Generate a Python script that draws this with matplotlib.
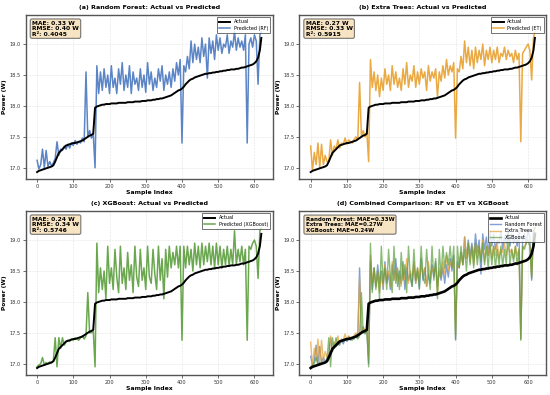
import numpy as np
import matplotlib
matplotlib.use("Agg")
import matplotlib.pyplot as plt
from matplotlib import rcParams

rcParams['font.family'] = 'DejaVu Sans'
rcParams['font.size'] = 4

# sample index (every 5th sample + last one)
sample_idx = list(range(0, 616, 5)) + [619]

actual = [16.93, 16.95, 16.96, 16.97, 16.98, 16.99, 17.00, 17.01, 17.02, 17.04,
          17.10, 17.17, 17.24, 17.27, 17.30, 17.33, 17.36, 17.37, 17.38, 17.39,
          17.40, 17.40, 17.41, 17.42, 17.43, 17.44, 17.46, 17.48, 17.50, 17.52,
          17.53, 17.55, 17.97, 17.99, 18.00, 18.01, 18.02, 18.02, 18.03, 18.03,
          18.03, 18.04, 18.04, 18.04, 18.04, 18.05, 18.05, 18.05, 18.05, 18.05,
          18.06, 18.06, 18.06, 18.06, 18.07, 18.07, 18.07, 18.07, 18.08, 18.08,
          18.08, 18.09, 18.09, 18.09, 18.10, 18.10, 18.11, 18.11, 18.12, 18.12,
          18.13, 18.14, 18.15, 18.16, 18.17, 18.19, 18.21, 18.23, 18.25, 18.26,
          18.28, 18.31, 18.35, 18.38, 18.41, 18.43, 18.44, 18.46, 18.47, 18.48,
          18.49, 18.50, 18.51, 18.52, 18.52, 18.53, 18.53, 18.54, 18.54, 18.55,
          18.55, 18.56, 18.56, 18.57, 18.57, 18.58, 18.58, 18.59, 18.59, 18.59,
          18.60, 18.60, 18.61, 18.62, 18.62, 18.63, 18.64, 18.65, 18.66, 18.67,
          18.69, 18.72, 18.78, 18.90, 19.10]

pred_rf = [17.12, 16.98, 17.05, 17.30, 17.00, 17.28, 17.02, 17.10, 17.03, 17.08,
           17.15, 17.42, 17.20, 17.30, 17.28, 17.35, 17.30, 17.38, 17.32, 17.40,
           17.36, 17.44, 17.38, 17.42, 17.40, 17.48, 17.42, 18.55, 17.50, 17.60,
           17.48, 17.55, 17.00, 18.65, 18.20, 18.55, 18.25, 18.60, 18.30, 18.50,
           18.20, 18.65, 18.30, 18.45, 18.20, 18.60, 18.35, 18.70, 18.25, 18.50,
           18.30, 18.65, 18.20, 18.55, 18.35, 18.45, 18.25, 18.60, 18.30, 18.50,
           18.22, 18.70, 18.35, 18.55, 18.25, 18.45, 18.30, 18.60, 18.40, 18.65,
           18.25, 18.50, 18.35, 18.55, 18.30, 18.60, 18.40, 18.70, 18.50, 18.75,
           17.40, 18.65, 18.55, 18.80, 18.60, 19.05, 18.70, 19.00, 18.75, 18.95,
           18.70, 19.10, 18.80, 19.00, 18.45, 19.10, 18.85, 19.05, 18.75, 19.15,
           18.90, 19.10, 18.85, 19.00, 18.95, 19.15, 18.85, 19.05, 18.95, 19.20,
           18.90, 19.10, 18.95, 19.05, 18.90, 19.15, 17.40, 19.00, 19.10, 18.95,
           19.15, 19.05, 18.35, 19.15, 19.20]

pred_et = [17.35, 16.95, 17.25, 17.05, 17.40, 17.00, 17.38, 17.05, 17.20, 17.10,
           17.10, 17.45, 17.20, 17.35, 17.30, 17.45, 17.32, 17.40, 17.38, 17.48,
           17.38, 17.45, 17.42, 17.40, 17.46, 17.50, 17.45, 18.38, 17.52, 17.60,
           17.50, 17.58, 17.10, 18.75, 18.30, 18.55, 18.25, 18.50, 18.15, 18.45,
           18.25, 18.60, 18.35, 18.50, 18.25, 18.65, 18.35, 18.55, 18.30, 18.45,
           18.25, 18.60, 18.35, 18.70, 18.30, 18.50, 18.40, 18.65, 18.30, 18.55,
           18.35, 18.60, 18.45, 18.55, 18.25, 18.65, 18.40, 18.55, 18.45, 18.60,
           18.15, 18.55, 18.40, 18.65, 18.45, 18.75, 18.50, 18.65, 18.55, 18.70,
           17.48, 18.60, 18.55, 18.80, 18.60, 19.05, 18.70, 18.95, 18.65, 18.90,
           18.60, 18.95, 18.70, 18.90, 18.75, 19.00, 18.65, 18.90, 18.75, 18.95,
           18.70, 18.90, 18.75, 18.95, 18.70, 18.85, 18.80, 18.95, 18.75, 18.90,
           18.80, 18.85, 18.70, 18.90, 18.75, 18.85, 17.42, 18.85, 18.90, 18.95,
           19.00, 18.90, 18.42, 19.10, 19.20]

pred_xgb = [16.95, 16.98, 17.00, 17.10, 16.98, 17.02, 17.00, 17.03, 17.02, 17.05,
            17.42, 16.95, 17.42, 17.25, 17.42, 17.30, 17.35, 17.38, 17.36, 17.40,
            17.38, 17.42, 17.40, 17.38, 17.42, 17.45, 17.40, 17.45, 18.15, 17.50,
            17.50, 17.55, 16.95, 18.95, 18.15, 18.55, 18.20, 18.50, 18.05, 18.90,
            18.30, 18.55, 18.20, 18.85, 18.40, 18.15, 18.90, 18.30, 18.55, 18.20,
            18.80, 18.35, 18.60, 18.15, 18.90, 18.40, 18.25, 18.85, 18.35, 18.55,
            18.20, 18.90, 18.40, 18.30, 18.85, 18.45, 18.20, 18.90, 18.35, 18.70,
            18.05, 18.85, 18.40, 18.90, 18.55, 18.80, 18.60, 18.90, 18.55, 18.90,
            17.38, 18.90, 18.55, 18.90, 18.60, 18.85, 18.50, 18.95, 18.60, 18.90,
            18.55, 18.95, 18.60, 18.90, 18.65, 18.95, 18.60, 18.90, 18.55, 18.95,
            18.60, 18.90, 18.55, 18.85, 18.60, 18.90, 18.58, 18.85, 18.60, 19.15,
            18.60, 18.85, 18.65, 18.90, 18.60, 18.85, 17.38, 18.90, 18.85, 18.95,
            19.00, 18.90, 18.38, 19.15, 19.20]

models = ["Random Forest", "Extra Trees", "XGBoost"]
short = ["RF", "ET", "XGBoost"]
mae = [0.33, 0.27, 0.24]
rmse = [0.40, 0.33, 0.34]
r2 = [0.4045, 0.5915, 0.5746]
preds = [pred_rf, pred_et, pred_xgb]
colors = ['#4a78c0', '#e8a02e', '#5a9e3c']
letters = ['a', 'b', 'c']

fig, axs = plt.subplots(2, 2, figsize=(5.5, 3.95), dpi=100)
fig.subplots_adjust(left=0.047, right=0.993, top=0.962, bottom=0.051,
                    wspace=0.109, hspace=0.196)

def style_ax(ax, title):
    ax.set_title(title, fontsize=4.6, fontweight='bold', pad=4)
    ax.set_xlabel("Sample Index", fontsize=4.4, fontweight='bold', labelpad=1)
    ax.set_ylabel("Power (W)", fontsize=4.2, fontweight='bold', labelpad=2)
    ax.tick_params(labelsize=3.6, length=2, width=0.5, pad=1.5, colors='#333333')
    ax.grid(True, linestyle='--', linewidth=0.4, alpha=0.35)
    ax.set_xlim(-31, 650)
    ax.set_ylim(16.82, 19.47)
    ax.set_yticks([17.0, 17.5, 18.0, 18.5, 19.0])
    for s in ax.spines.values():
        s.set_edgecolor('#555555')
        s.set_linewidth(1.0)

box = dict(boxstyle='round,pad=0.3', facecolor='wheat', alpha=0.8, edgecolor='#555555', linewidth=0.8)

for i in range(3):
    ax = axs.flat[i]
    ax.plot(sample_idx, actual, color='black', lw=1.4, label='Actual', zorder=3)
    ax.plot(sample_idx, preds[i], color=colors[i], lw=1.1, alpha=0.9,
            label='Predicted (%s)' % short[i], zorder=2)
    style_ax(ax, "(%s) %s: Actual vs Predicted" % (letters[i], models[i]))
    ax.text(0.025, 0.965, "MAE: %.2f W\nRMSE: %.2f W\nR²: %.4f" % (mae[i], rmse[i], r2[i]),
            transform=ax.transAxes, va='top', ha='left', fontsize=4.3, fontweight='bold',
            bbox=box, linespacing=1.1)
    leg = ax.legend(loc='upper right', fontsize=3.5, frameon=True, fancybox=False,
                    handlelength=2.2, borderpad=0.4, labelspacing=0.3)
    leg.get_frame().set_edgecolor('#333333')
    leg.get_frame().set_linewidth(0.6)

ax = axs[1, 1]
ax.plot(sample_idx, actual, color='black', lw=1.9, label='Actual', zorder=5)
for i in range(3):
    ax.plot(sample_idx, preds[i], color=colors[i], lw=1.0, alpha=0.7,
            label=models[i], zorder=2 + i)
style_ax(ax, "(d) Combined Comparison: RF vs ET vs XGBoost")
ax.text(0.025, 0.965, "\n".join("%s: MAE=%.2fW" % (m, v) for m, v in zip(models, mae)),
        transform=ax.transAxes, va='top', ha='left', fontsize=4.0, fontweight='bold',
        bbox=box, linespacing=1.1)
leg = ax.legend(loc='upper right', fontsize=3.5, frameon=True, fancybox=False,
                handlelength=2.2, borderpad=0.4, labelspacing=0.3)
leg.get_frame().set_edgecolor('#333333')
leg.get_frame().set_linewidth(0.6)

plt.savefig("out.png", dpi=100)
